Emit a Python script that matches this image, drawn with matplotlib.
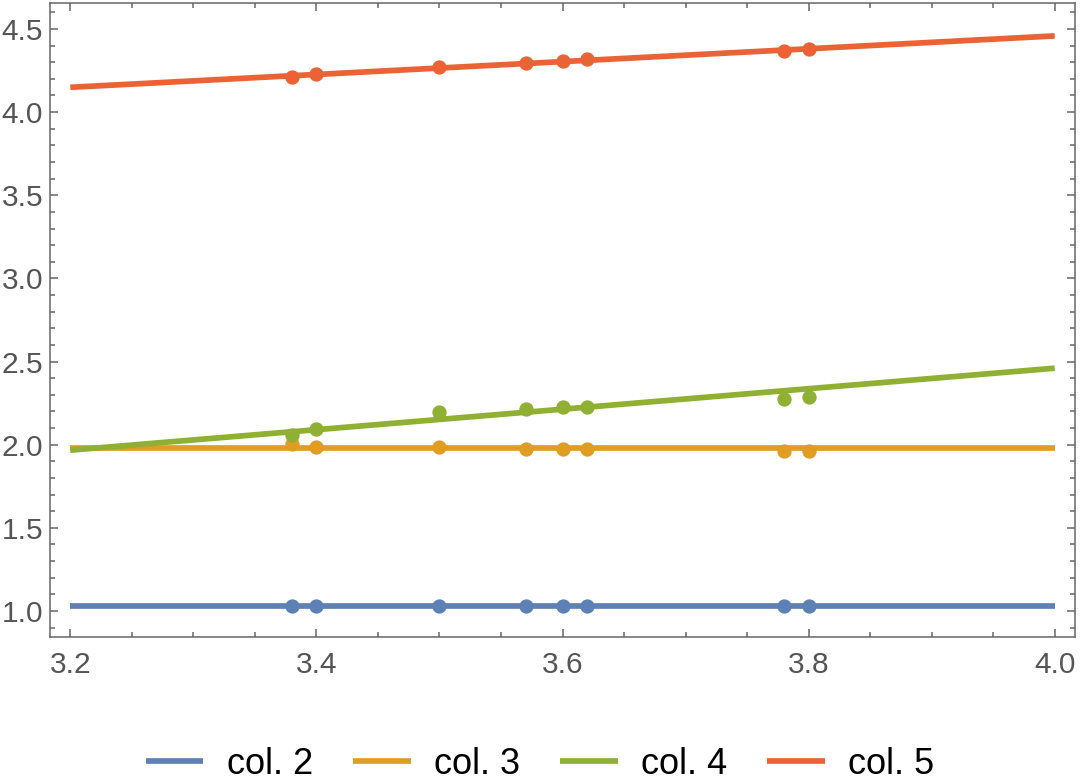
import matplotlib.pyplot as plt
from matplotlib.ticker import MultipleLocator

plt.rcParams['font.family'] = ['Liberation Sans', 'DejaVu Sans']

# measured points
x_pts = [3.38, 3.40, 3.50, 3.57, 3.60, 3.62, 3.78, 3.80]
col2 = [1.028, 1.028, 1.028, 1.028, 1.028, 1.028, 1.028, 1.028]
col3 = [2.003, 1.987, 1.987, 1.975, 1.975, 1.975, 1.963, 1.963]
col4 = [2.061, 2.095, 2.194, 2.214, 2.227, 2.227, 2.276, 2.286]
col5 = [4.213, 4.227, 4.273, 4.297, 4.309, 4.320, 4.369, 4.380]

# fitted lines (values at the ends of the range)
fit_x = [3.2, 4.0]
fit2 = [1.028, 1.028]
fit3 = [1.978, 1.978]
fit4 = [1.967, 2.460]
fit5 = [4.149, 4.458]

labels = ['col. 2', 'col. 3', 'col. 4', 'col. 5']
colors = ['#5E81B5', '#E19C24', '#8FB032', '#EB6235']

fig = plt.figure(figsize=(10.8, 7.8), dpi=100)
ax = fig.add_axes([50 / 1080, 1 - 637 / 780, 1025 / 1080, 634 / 780])

for pts, fit, c, lab in zip([col2, col3, col4, col5], [fit2, fit3, fit4, fit5], colors, labels):
    ax.plot(fit_x, fit, color=c, lw=4.1, solid_capstyle='butt', label=lab, zorder=2)
    ax.plot(x_pts, pts, 'o', color=c, ms=10.3, mec='none', zorder=3)

ax.set_xlim(3.1835, 4.0165)
ax.set_ylim(0.8436, 4.656)

ax.xaxis.set_major_locator(MultipleLocator(0.2))
ax.xaxis.set_minor_locator(MultipleLocator(0.05))
ax.yaxis.set_major_locator(MultipleLocator(0.5))
ax.yaxis.set_minor_locator(MultipleLocator(0.1))
ax.xaxis.set_major_formatter(plt.FuncFormatter(lambda v, p: f'{v:.1f}'))
ax.yaxis.set_major_formatter(plt.FuncFormatter(lambda v, p: f'{v:.1f}'))

frame = '#666666'
for s in ax.spines.values():
    s.set_color(frame)
    s.set_linewidth(1.1)
ax.tick_params(which='both', direction='in', top=True, right=True, color=frame, width=1.1,
               labelcolor='#555555', labelsize=21.5)
ax.tick_params(which='major', length=6)
ax.tick_params(which='minor', length=3.5)
ax.tick_params(axis='x', which='major', pad=10)
ax.tick_params(axis='y', which='major', pad=5)

fig.legend(loc='center', bbox_to_anchor=(0.5, 1 - 764 / 780), ncol=4, frameon=False,
           fontsize=26, handlelength=1.6, handletextpad=0.65, columnspacing=1.1)

fig.savefig('out.png', dpi=100)
